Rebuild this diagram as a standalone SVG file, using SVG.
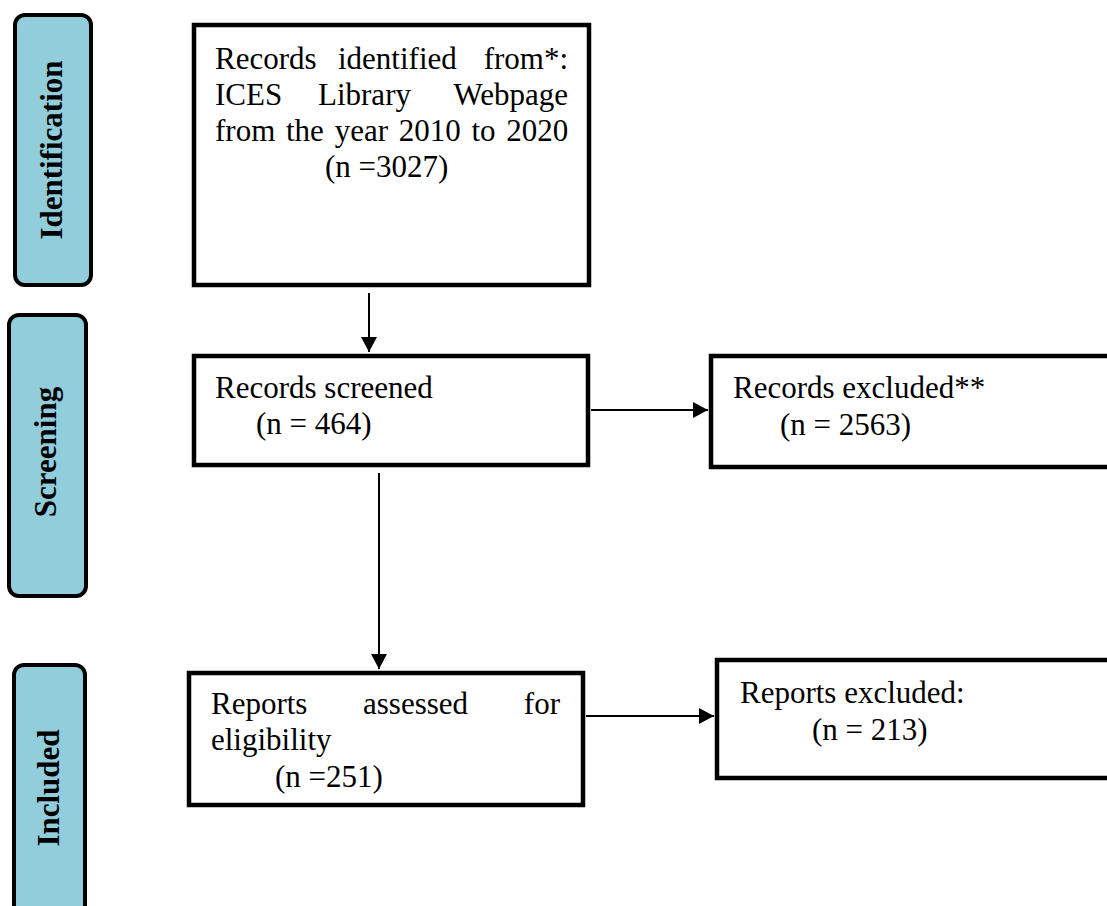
<svg xmlns="http://www.w3.org/2000/svg" width="1107" height="906" viewBox="0 0 1107 906">
<defs>
<style>
.bar{fill:#92CDDC;stroke:#000;stroke-width:4}
.box{fill:#fff;stroke:#000;stroke-width:4.5}
.t{font-family:"Liberation Serif","Times New Roman",serif;font-size:31px;fill:#000}
.bt{font-family:"Liberation Serif","Times New Roman",serif;font-size:31px;font-weight:bold;fill:#000;text-anchor:middle}
.ln{stroke:#000;stroke-width:2;fill:none}
</style>
<marker id="ah" markerWidth="15" markerHeight="16" refX="15" refY="8" orient="auto" markerUnits="userSpaceOnUse">
<path d="M0,0 L15,8 L0,16 Z" fill="#000"/>
</marker>
</defs>
<rect width="1107" height="906" fill="#fff"/>

<g id="phase-identification">
<rect class="bar" x="15" y="15" width="76" height="270" rx="10"/>
<text class="bt" transform="translate(62,150) rotate(-90)">Identification</text>
</g>
<g id="phase-screening">
<rect class="bar" x="9" y="315" width="77" height="281" rx="10"/>
<text class="bt" transform="translate(56,452) rotate(-90)">Screening</text>
</g>
<g id="phase-included">
<rect class="bar" x="14" y="665" width="71" height="270" rx="10"/>
<text class="bt" transform="translate(59,788) rotate(-90)">Included</text>
</g>

<g id="connectors">
<line class="ln" x1="369" y1="293" x2="369" y2="352" marker-end="url(#ah)"/>
<line class="ln" x1="379" y1="473" x2="379" y2="669" marker-end="url(#ah)"/>
<line class="ln" x1="591" y1="410" x2="708" y2="410" marker-end="url(#ah)"/>
<line class="ln" x1="586" y1="716" x2="714" y2="716" marker-end="url(#ah)"/>
</g>

<g id="node-identified">
<rect class="box" x="194" y="25" width="395" height="260"/>
<text class="t" x="215" y="69">Records</text>
<text class="t" x="338" y="69">identified</text>
<text class="t" x="568" y="69" text-anchor="end">from*:</text>
<text class="t" x="215" y="105">ICES</text>
<text class="t" x="318" y="105">Library</text>
<text class="t" x="568" y="105" text-anchor="end">Webpage</text>
<text class="t" x="215" y="141" word-spacing="3">from the year 2010 to 2020</text>
<text class="t" x="325" y="177">(n =3027)</text>
</g>

<g id="node-screened">
<rect class="box" x="194" y="356" width="394" height="109"/>
<text class="t" x="215" y="398">Records screened</text>
<text class="t" x="256" y="434">(n = 464)</text>
</g>

<g id="node-records-excluded">
<rect class="box" x="711" y="356" width="420" height="111"/>
<text class="t" x="733" y="398">Records excluded**</text>
<text class="t" x="780" y="435">(n = 2563)</text>
</g>

<g id="node-assessed">
<rect class="box" x="189" y="673" width="394" height="132"/>
<text class="t" x="211" y="714">Reports</text>
<text class="t" x="363" y="714">assessed</text>
<text class="t" x="560" y="714" text-anchor="end">for</text>
<text class="t" x="211" y="750">eligibility</text>
<text class="t" x="275" y="787">(n =251)</text>
</g>

<g id="node-reports-excluded">
<rect class="box" x="717" y="660" width="420" height="118"/>
<text class="t" x="740" y="703">Reports excluded:</text>
<text class="t" x="812" y="740">(n = 213)</text>
</g>
</svg>
